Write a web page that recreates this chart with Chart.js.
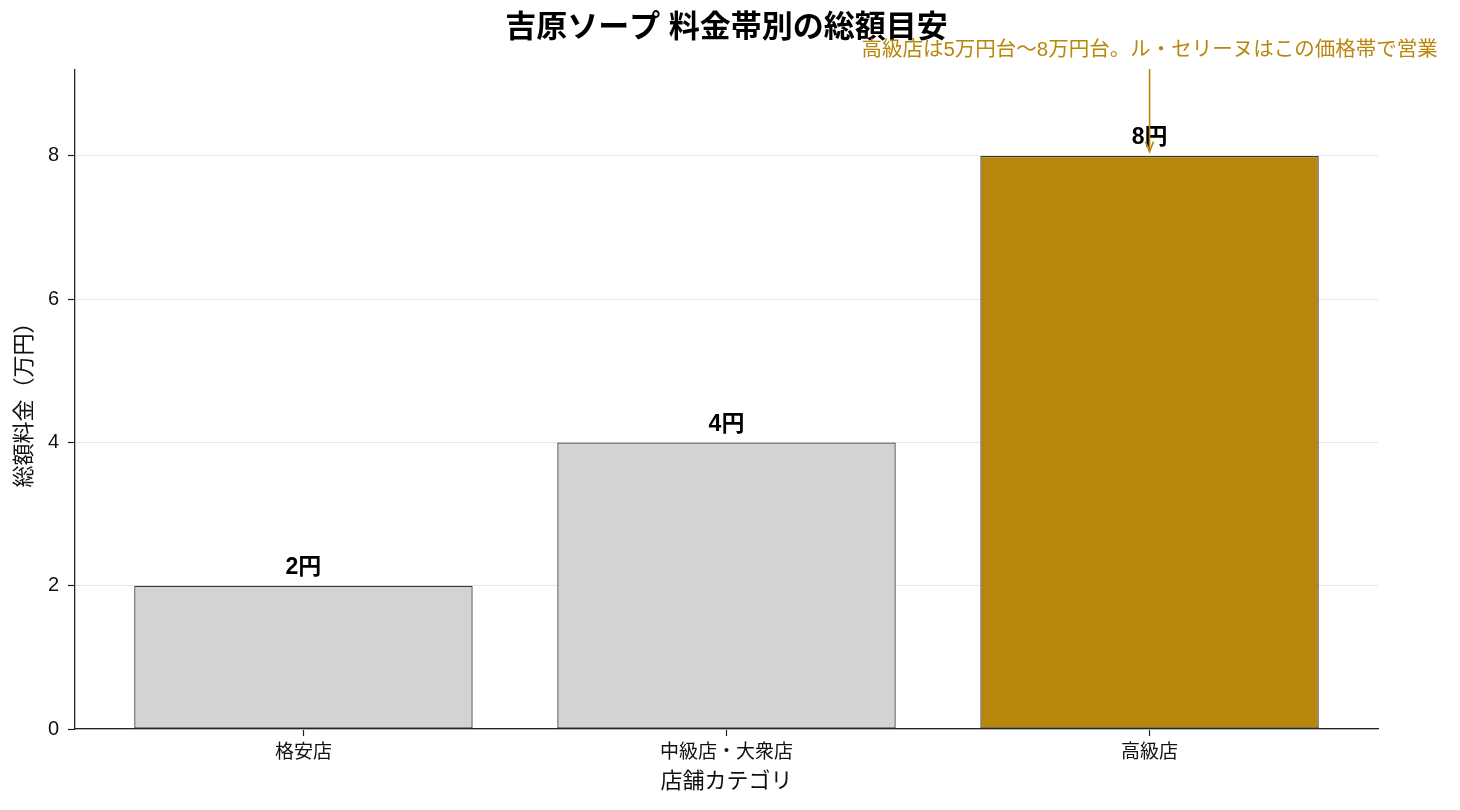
<!DOCTYPE html>
<html><head><meta charset="utf-8">
<script src="https://cdn.jsdelivr.net/npm/chart.js@4/dist/chart.umd.min.js"></script>
<style>html,body{margin:0;padding:0;background:#fff}#wrap{width:1460px;height:810px}</style>
</head><body><div id="wrap"><canvas id="c" width="1460" height="810"></canvas></div>
<script>
const categories = ['格安店', '中級店・大衆店', '高級店'];
const totals = [2, 4, 8];
const valueLabels = ['2円', '4円', '8円'];
const barColors = ['#d3d3d3', '#d3d3d3', '#b8860b'];
const yTicks = [0, 2, 4, 6, 8];
const titleText = '吉原ソープ 料金帯別の総額目安';
const annotationText = '高級店は5万円台〜8万円台。ル・セリーヌはこの価格帯で営業';
const annotationIndex = 2;
const annotationTextValue = 9.48;
const annotationTipValue = 8.06;

const FONT = '"Liberation Sans", "Noto Sans CJK JP", sans-serif';

const overlay = {
  id: 'overlay',
  afterDatasetsDraw(chart) {
    const ctx = chart.ctx, xs = chart.scales.x, ys = chart.scales.y, ca = chart.chartArea;
    ctx.save();
    ctx.fillStyle = '#000';
    ctx.font = 'bold 23px ' + FONT;
    ctx.textAlign = 'center';
    ctx.textBaseline = 'middle';
    totals.forEach((v, i) => {
      ctx.fillText(valueLabels[i], xs.getPixelForValue(i), ys.getPixelForValue(v) - 18);
    });
    ctx.font = 'bold 31px ' + FONT;
    ctx.fillText(titleText, (ca.left + ca.right) / 2, 28);
    const ax = xs.getPixelForValue(annotationIndex);
    const ty = ys.getPixelForValue(annotationTextValue);
    ctx.fillStyle = '#b8860b';
    ctx.font = '20.5px ' + FONT;
    ctx.fillText(annotationText, ax, ty);
    const tipY = ys.getPixelForValue(annotationTipValue);
    ctx.strokeStyle = '#b8860b';
    ctx.lineWidth = 1.6;
    ctx.beginPath();
    ctx.moveTo(ax, ty + 19);
    ctx.lineTo(ax, tipY);
    ctx.stroke();
    ctx.beginPath();
    ctx.moveTo(ax - 4, tipY - 10);
    ctx.lineTo(ax, tipY);
    ctx.lineTo(ax + 4, tipY - 10);
    ctx.stroke();
    ctx.restore();
  }
};

new Chart(document.getElementById('c'), {
  type: 'bar',
  data: {
    datasets: [{
      data: categories.map((c, i) => ({ x: i, y: totals[i] })),
      backgroundColor: barColors,
      borderColor: '#3a3a3a',
      borderWidth: 1.3,
      borderSkipped: false,
      barPercentage: 0.8,
      categoryPercentage: 1.0
    }]
  },
  options: {
    responsive: false,
    animation: false,
    devicePixelRatio: 1,
    layout: { padding: { top: 70, right: 82, left: 0, bottom: 15 } },
    plugins: { legend: { display: false }, tooltip: { enabled: false }, title: { display: false } },
    scales: {
      x: {
        type: 'linear',
        offset: false,
        min: -0.54, max: 2.54,
        afterBuildTicks: (s) => { s.ticks = categories.map((c, i) => ({ value: i })); },
        afterFit: (s) => { s.height = 66; },
        ticks: { callback: (v) => categories[v], color: '#111', font: { family: FONT, size: 19 }, padding: 5, maxRotation: 0, autoSkip: false },
        grid: { offset: false, drawOnChartArea: false, tickColor: '#222', tickLength: 7, tickWidth: 1.2 },
        border: { color: '#222', width: 1.3 },
        title: { display: true, text: '店舗カテゴリ', color: '#111', font: { family: FONT, size: 22 }, padding: { top: 0, bottom: 0 } }
      },
      y: {
        min: 0, max: 9.2,
        afterBuildTicks: (s) => { s.ticks = yTicks.map(v => ({ value: v })); },
        afterFit: (s) => { s.width = 75; },
        ticks: { color: '#111', font: { family: FONT, size: 20 }, padding: 9 },
        grid: { color: '#e6e6e6', lineWidth: 1, tickColor: '#222', tickLength: 7, tickWidth: 1.2 },
        border: { color: '#222', width: 1.3 },
        title: { display: true, text: '総額料金（万円）', color: '#111', font: { family: FONT, size: 22 }, padding: { top: 12, bottom: 0 } }
      }
    }
  },
  plugins: [overlay]
});
</script>
</body></html>
